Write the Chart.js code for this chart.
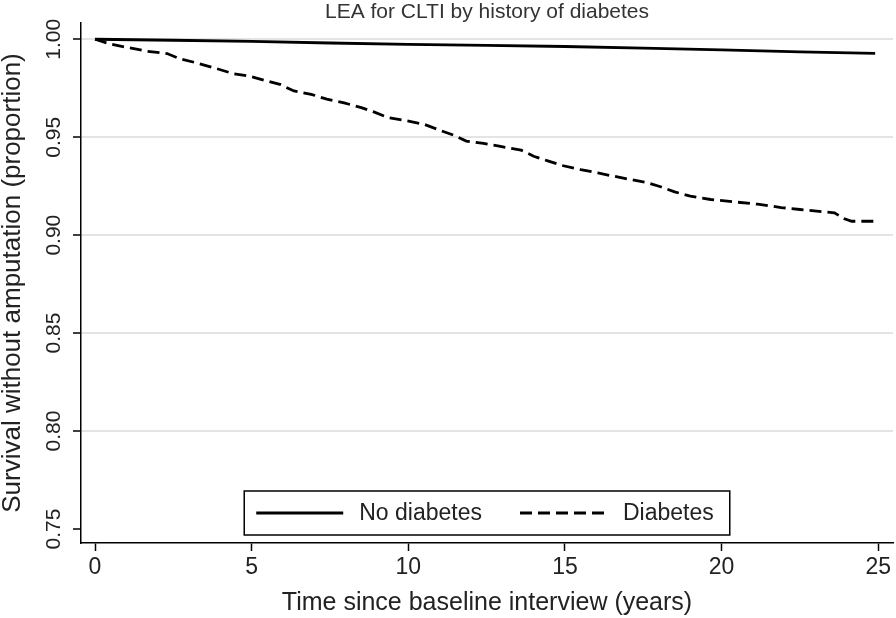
<!DOCTYPE html>
<html>
<head>
<meta charset="utf-8">
<script src="https://cdn.jsdelivr.net/npm/chart.js@4"></script>
<style>
  html, body { margin: 0; padding: 0; background: #fff; }
  #wrap { width: 896px; height: 618px; }
</style>
</head>
<body>
<div id="wrap"><canvas id="chart"></canvas></div>
<script>
// Data
const noDiabTime = [0, 2.5, 5, 7.5, 10, 12.5, 15, 17.5, 20, 22.5, 24.9];
const noDiabSurv = [1.0, 0.9995, 0.9989, 0.9981, 0.9974, 0.9969, 0.9963, 0.9955, 0.9946, 0.9936, 0.9928];

const diabTime = [0, 0.5, 1.1, 1.65, 2.3, 2.7, 3.25, 3.8, 4.4, 4.95, 5.4, 5.9, 6.35, 6.9, 7.4, 7.95,
  8.5, 8.9, 9.35, 9.85, 10.5, 11.0, 11.45, 11.85, 12.4, 12.9, 13.6, 14.0, 14.45, 14.9, 15.5, 16.05,
  16.55, 17.1, 17.65, 18.05, 18.5, 19.0, 19.65, 20.4, 21.15, 21.9, 22.5, 23.25, 23.6, 23.9, 24.15, 24.95];
const diabSurv = [1.0, 0.9975, 0.9956, 0.9939, 0.9927, 0.9901, 0.9879, 0.9854, 0.9825, 0.9811, 0.9791, 0.977,
  0.9736, 0.9719, 0.9694, 0.9675, 0.9651, 0.9629, 0.96, 0.9587, 0.9566, 0.9536, 0.951, 0.948, 0.9468, 0.9454,
  0.9434, 0.9403, 0.9379, 0.9356, 0.9335, 0.9318, 0.9301, 0.9284, 0.9267, 0.9247, 0.9221, 0.9199, 0.9182,
  0.917, 0.9158, 0.9141, 0.9131, 0.9119, 0.9114, 0.9085, 0.9071, 0.9071];

const xTicks = [0, 5, 10, 15, 20, 25];
const yTicks = [0.75, 0.80, 0.85, 0.90, 0.95, 1.00];

const FONT = "'Liberation Sans', Arial, sans-serif";
const toXY = (xs, ys) => xs.map((x, i) => ({ x: x, y: ys[i] }));

// Stata-style legend box sitting inside the plot region
const boxLegend = {
  id: "boxLegend",
  afterDraw(chart) {
    const ctx = chart.ctx;
    const area = chart.chartArea;
    const sets = chart.data.datasets;
    ctx.save();
    ctx.font = "23px " + FONT;
    const sample = 87, padL = 12, gapTxt = 16, gapItem = 38, padR = 16;
    let w = padL + padR;
    sets.forEach((d, i) => {
      w += sample + gapTxt + ctx.measureText(d.label).width;
      if (i < sets.length - 1) w += gapItem;
    });
    const h = 44;
    const left = (area.left + area.right) / 2 - w / 2;
    const top = area.bottom - 8 - h;
    ctx.fillStyle = "#fff";
    ctx.fillRect(left, top, w, h);
    ctx.strokeStyle = "#000";
    ctx.lineWidth = 1.5;
    ctx.strokeRect(left, top, w, h);

    let x = left + padL;
    const cy = top + h / 2;
    sets.forEach(d => {
      ctx.beginPath();
      ctx.setLineDash(d.borderDash || []);
      ctx.lineWidth = d.borderWidth;
      ctx.strokeStyle = d.borderColor;
      ctx.moveTo(x, cy);
      ctx.lineTo(x + sample, cy);
      ctx.stroke();
      ctx.setLineDash([]);
      x += sample + gapTxt;
      ctx.fillStyle = "#222";
      ctx.textBaseline = "middle";
      ctx.textAlign = "left";
      ctx.fillText(d.label, x, cy + 1);
      x += ctx.measureText(d.label).width + gapItem;
    });
    ctx.restore();
  }
};

new Chart(document.getElementById("chart"), {
  type: "line",
  data: {
    datasets: [
      {
        label: "No diabetes",
        data: toXY(noDiabTime, noDiabSurv),
        borderColor: "#000",
        borderWidth: 2.8,
        pointRadius: 0,
        tension: 0
      },
      {
        label: "Diabetes",
        data: toXY(diabTime, diabSurv),
        borderColor: "#000",
        borderWidth: 2.8,
        borderDash: [12, 6],
        pointRadius: 0,
        tension: 0
      }
    ]
  },
  options: {
    responsive: true,
    maintainAspectRatio: false,
    animation: false,
    layout: { padding: { top: 0, right: 3, left: 0, bottom: 0 } },
    plugins: {
      legend: { display: false },
      tooltip: { enabled: false },
      title: {
        display: true,
        text: "LEA for CLTI by history of diabetes",
        fullSize: false,
        color: "#333",
        font: { family: FONT, size: 21, weight: "normal", lineHeight: 1.0 },
        padding: { top: 2, bottom: 0 }
      }
    },
    scales: {
      x: {
        type: "linear",
        min: -0.447,
        max: 25.47,
        afterBuildTicks: s => { s.ticks = xTicks.map(v => ({ value: v })); },
        afterFit: s => { s.height = 75; },
        border: { color: "#000", width: 1.5 },
        grid: { drawOnChartArea: false, drawTicks: true, tickLength: 8, tickColor: "#000", tickWidth: 1.5 },
        ticks: {
          color: "#222",
          padding: 3,
          maxRotation: 0,
          font: { family: FONT, size: 23 }
        },
        title: {
          display: true,
          text: "Time since baseline interview (years)",
          color: "#222",
          font: { family: FONT, size: 25 },
          padding: { top: 0, bottom: 0 }
        }
      },
      y: {
        type: "linear",
        min: 0.74285,
        max: 1.0083,
        afterBuildTicks: s => { s.ticks = yTicks.map(v => ({ value: v })); },
        afterFit: s => { s.width = 81; },
        border: { color: "#000", width: 1.5 },
        grid: {
          color: c => (c.tick && Math.abs(c.tick.value - 0.75) < 1e-6) ? "rgba(0,0,0,0)" : "#e4e4e4",
          lineWidth: 2,
          drawTicks: true,
          tickLength: 8,
          tickColor: "#000",
          tickWidth: 1.5
        },
        ticks: {
          color: "#222",
          padding: -2,
          minRotation: 90,
          maxRotation: 90,
          crossAlign: "center",
          font: { family: FONT, size: 21 },
          callback: v => Number(v).toFixed(2)
        },
        title: {
          display: true,
          text: "Survival without amputation (proportion)",
          color: "#222",
          font: { family: FONT, size: 26, lineHeight: 1.0 },
          padding: { top: 0, bottom: 0 }
        }
      }
    }
  },
  plugins: [boxLegend]
});
</script>
</body>
</html>
